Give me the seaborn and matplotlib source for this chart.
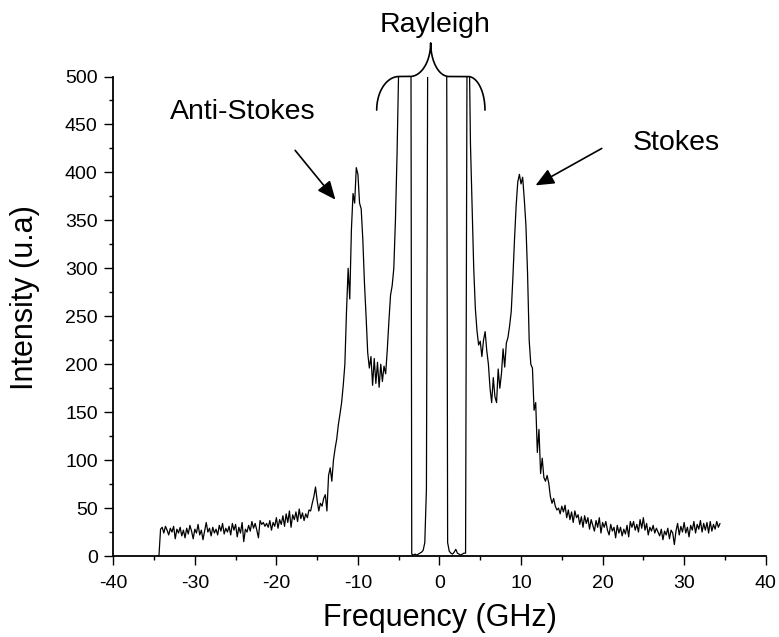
import numpy as np
import matplotlib
matplotlib.use("Agg")
import matplotlib.pyplot as plt
import seaborn as sns

# Brillouin spectrum, every 0.2 GHz from -34.4 to 34.4 GHz
freq_start = -34.4
freq_step = 0.2
intensity = [
    0, 28, 30, 24, 31, 27, 22, 29, 25, 31,                 # -34.4
    18, 28, 24, 30, 21, 27, 19, 29, 23, 32,                # -32.4
    26, 18, 28, 24, 33, 22, 27, 17, 26, 35,                # -30.4
    25, 29, 21, 30, 24, 28, 22, 32, 26, 34,                # -28.4
    23, 29, 25, 31, 22, 34, 27, 33, 20, 30,                # -26.4
    24, 35, 15, 28, 25, 32, 26, 36, 29, 34,                # -24.4
    27, 19, 37, 33, 35, 31, 34, 30, 37, 27,                # -22.4
    35, 31, 40, 29, 38, 33, 42, 31, 44, 35,                # -20.4
    47, 30, 43, 38, 46, 36, 49, 39, 45, 37,                # -18.4
    44, 40, 48, 47, 55, 62, 72, 58, 47, 55,                # -16.4
    52, 60, 64, 47, 84, 92, 78, 100, 112, 122,             # -14.4
    137, 148, 160, 178, 200, 255, 300, 268, 340, 378,      # -12.4
    368, 405, 398, 368, 362, 330, 285, 250, 212, 196,      # -10.4
    208, 178, 206, 180, 202, 176, 200, 182, 198, 190,      # -8.4
    215, 245, 272, 282, 300, 350, 420, 510, 900, 1400,     # -6.4
    2100, 2600, 2400, 1900, 1100, 2, 1, 2, 1, 2,           # -4.4
    3, 4, 6, 14, 70, 650, 2200, 4800, 7500, 9000,          # -2.4
    9500, 8600, 7000, 5200, 3300, 1900, 900, 14, 5, 3,     # -0.4
    2, 4, 7, 3, 2, 1, 2, 3, 3, 588,                        # 1.6
    560, 430, 365, 300, 258, 235, 220, 224, 208, 225,      # 3.6
    234, 214, 200, 175, 160, 186, 166, 160, 195, 175,      # 5.6
    190, 216, 197, 222, 228, 240, 255, 290, 330, 365,      # 7.6
    390, 398, 388, 395, 372, 345, 295, 225, 200, 196,      # 9.6
    152, 160, 108, 132, 86, 102, 82, 78, 84, 76,           # 11.6
    62, 55, 60, 52, 48, 50, 44, 52, 46, 53,                # 13.6
    40, 48, 38, 46, 35, 47, 40, 43, 33, 41,                # 15.6
    30, 42, 34, 40, 28, 38, 32, 26, 37, 30,                # 17.6
    40, 24, 35, 30, 36, 27, 22, 33, 26, 30,                # 19.6
    19, 32, 24, 30, 21, 28, 23, 32, 20, 36,                # 21.6
    30, 36, 27, 33, 25, 38, 29, 40, 27, 34,                # 23.6
    22, 30, 26, 32, 24, 29, 25, 21, 28, 17,                # 25.6
    26, 22, 29, 18, 27, 24, 12, 26, 34, 22,                # 27.6
    31, 25, 35, 24, 30, 20, 32, 27, 36, 24,                # 29.6
    33, 28, 37, 25, 34, 27, 35, 24, 36, 26,                # 31.6
    33, 28, 36, 30, 34,                                    # 33.6
]
freq = np.round(freq_start + freq_step * np.arange(len(intensity)), 1)

x_ticks = list(range(-40, 41, 10))
y_ticks = list(range(0, 501, 50))

sns.set_style("ticks")
plt.rcParams["font.family"] = ["Liberation Sans", "DejaVu Sans"]
plt.rcParams["axes.unicode_minus"] = False
for key in ["text.color", "axes.labelcolor", "xtick.color", "ytick.color", "axes.edgecolor"]:
    plt.rcParams[key] = "black"

fig = plt.figure(figsize=(7.79, 6.37), dpi=100)
ax = fig.add_axes([0.1454, 0.1271, 0.8375, 0.7528])

sns.lineplot(x=freq, y=intensity, ax=ax, color="black", lw=0.9)

ax.set_xlim(-40, 40)
ax.set_ylim(0, 500)
ax.set_xticks(x_ticks)
ax.set_yticks(y_ticks)
ax.set_xticks(range(-35, 40, 10), minor=True)
ax.set_yticks(range(25, 500, 50), minor=True)
ax.tick_params(which="both", direction="out", width=1.0, colors="black", labelsize=14)
ax.tick_params(which="major", length=6.5)
ax.tick_params(which="minor", length=3.2)
ax.tick_params(axis="x", which="major", pad=7)
ax.tick_params(axis="y", which="major", pad=4.7)
sns.despine(ax=ax)
for side in ["left", "bottom"]:
    ax.spines[side].set_linewidth(1.3)

ax.set_xlabel("Frequency (GHz)", fontsize=22)
ax.set_ylabel("Intensity (u.a)", fontsize=22)
ax.xaxis.set_label_coords(0.5, -0.098)
ax.yaxis.set_label_coords(-0.112, 0.54)

# peak labels with arrows
arrow = dict(arrowstyle="-|>,head_length=0.8,head_width=0.35", color="black",
             lw=1.2, mutation_scale=14, shrinkA=0, shrinkB=0)
ax.annotate("", xy=(-12.76, 371.6), xytext=(-17.7, 423), arrowprops=arrow)
ax.annotate("", xy=(11.78, 386.5), xytext=(19.9, 425), arrowprops=arrow)
ax.text(-24.1, 456, "Anti-Stokes", fontsize=20.5, ha="center", va="baseline")
ax.text(29.0, 423, "Stokes", fontsize=20.5, ha="center", va="baseline")
ax.text(-0.5, 546, "Rayleigh", fontsize=20.5, ha="center", va="baseline", clip_on=False)

# curly brace over the saturated Rayleigh lines
def arc(cx, cy, rx, ry, a0, a1):
    t = np.radians(np.linspace(a0, a1, 40))
    return cx + rx * np.cos(t), cy + ry * np.sin(t)

pieces = [arc(-4.97, 465, 2.73, 35, 180, 90),
          arc(-3.61, 535, 2.53, 35, 270, 360),
          arc(1.16, 535, 2.24, 35, 180, 270),
          arc(3.49, 465, 2.09, 35, 90, 0)]
bx = np.concatenate([p[0] for p in pieces])
by = np.concatenate([p[1] for p in pieces])
ax.plot(bx, by, color="black", lw=1.2, clip_on=False)

fig.savefig("out.png", dpi=100)
